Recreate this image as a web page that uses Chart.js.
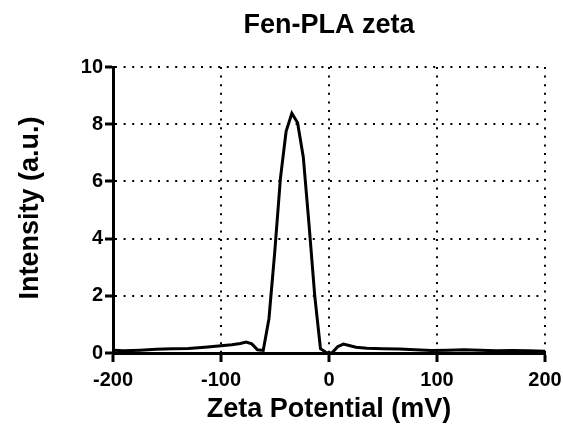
<!DOCTYPE html>
<html>
<head>
<meta charset="utf-8">
<script src="https://cdn.jsdelivr.net/npm/chart.js@4.4.0/dist/chart.umd.min.js"></script>
<style>
  html, body { margin: 0; padding: 0; background: #fff; }
  #wrap { width: 563px; height: 430px; }
</style>
</head>
<body>
<div id="wrap"><canvas id="c" width="563" height="430"></canvas></div>
<script>
const titleText = 'Fen-PLA zeta';
const xTitle = 'Zeta Potential (mV)';
const yTitle = 'Intensity (a.u.)';

const zeta = [-200, -190, -175, -160, -145, -130, -115, -100, -90, -82.1, -76.8, -71.5, -66.2, -60.9,
  -55.6, -50.3, -45, -39.7, -34.4, -29.1, -23.8, -18.5, -13.2, -7.9, -2.6, 2.7, 8, 13.3,
  18.6, 25, 35, 50, 65, 80, 95, 110, 125, 140, 155, 170, 185, 200];
const intensity = [0.10, 0.08, 0.10, 0.13, 0.15, 0.16, 0.20, 0.25, 0.29, 0.33, 0.38, 0.32, 0.11, 0.09,
  1.2, 3.5, 6.1, 7.75, 8.38, 8.05, 6.85, 4.5, 2.0, 0.15, 0.02, 0.0, 0.22, 0.31,
  0.26, 0.20, 0.17, 0.15, 0.14, 0.11, 0.09, 0.10, 0.11, 0.10, 0.08, 0.09, 0.08, 0.06];

const FONT = "'Liberation Sans', Arial, sans-serif";
const points = zeta.map((x, i) => ({ x: x, y: intensity[i] }));

const titlesPlugin = {
  id: 'titles',
  afterDraw(chart) {
    const ctx = chart.ctx;
    const a = chart.chartArea;
    ctx.save();
    ctx.fillStyle = '#000';
    ctx.font = 'bold 27px ' + FONT;
    ctx.textAlign = 'center';
    ctx.textBaseline = 'alphabetic';
    ctx.fillText(titleText, (a.left + a.right) / 2, 33);
    ctx.translate(38, 208);
    ctx.rotate(-Math.PI / 2);
    ctx.fillText(yTitle, 0, 0);
    ctx.restore();
  }
};

new Chart(document.getElementById('c'), {
  type: 'line',
  data: {
    datasets: [{
      data: points,
      borderColor: '#000',
      borderWidth: 3,
      pointRadius: 0,
      tension: 0,
      fill: false
    }]
  },
  plugins: [titlesPlugin],
  options: {
    responsive: false,
    animation: false,
    devicePixelRatio: 1,
    layout: { padding: { left: 0, right: 0, top: 67, bottom: 0 } },
    plugins: {
      legend: { display: false },
      tooltip: { enabled: false },
      title: { display: false }
    },
    scales: {
      x: {
        type: 'linear',
        min: -200, max: 200,
        afterFit: s => { s.height = 77; s.paddingRight = 18; },
        ticks: {
          stepSize: 100,
          color: '#000',
          padding: 6,
          maxRotation: 0,
          font: { family: FONT, size: 20, weight: 'bold' }
        },
        grid: {
          color: '#000',
          lineWidth: 2,
          tickLength: 9,
          tickWidth: 3,
          tickColor: '#000',
          tickBorderDash: [],
          drawTicks: true
        },
        border: { display: true, color: '#000', width: 3, dash: [2, 6.6] },
        title: {
          display: true,
          text: xTitle,
          color: '#000',
          font: { family: FONT, size: 27, weight: 'bold' },
          padding: { top: 0, bottom: 4 }
        }
      },
      y: {
        min: 0, max: 10,
        afterFit: s => { s.width = 113; },
        ticks: {
          stepSize: 2,
          color: '#000',
          padding: 2,
          font: { family: FONT, size: 20, weight: 'bold' }
        },
        grid: {
          color: '#000',
          lineWidth: 2,
          tickLength: 8,
          tickWidth: 3,
          tickColor: '#000',
          tickBorderDash: [],
          drawTicks: true
        },
        border: { display: true, color: '#000', width: 3, dash: [2, 6.6] },
        title: { display: false }
      }
    }
  }
});
</script>
</body>
</html>
